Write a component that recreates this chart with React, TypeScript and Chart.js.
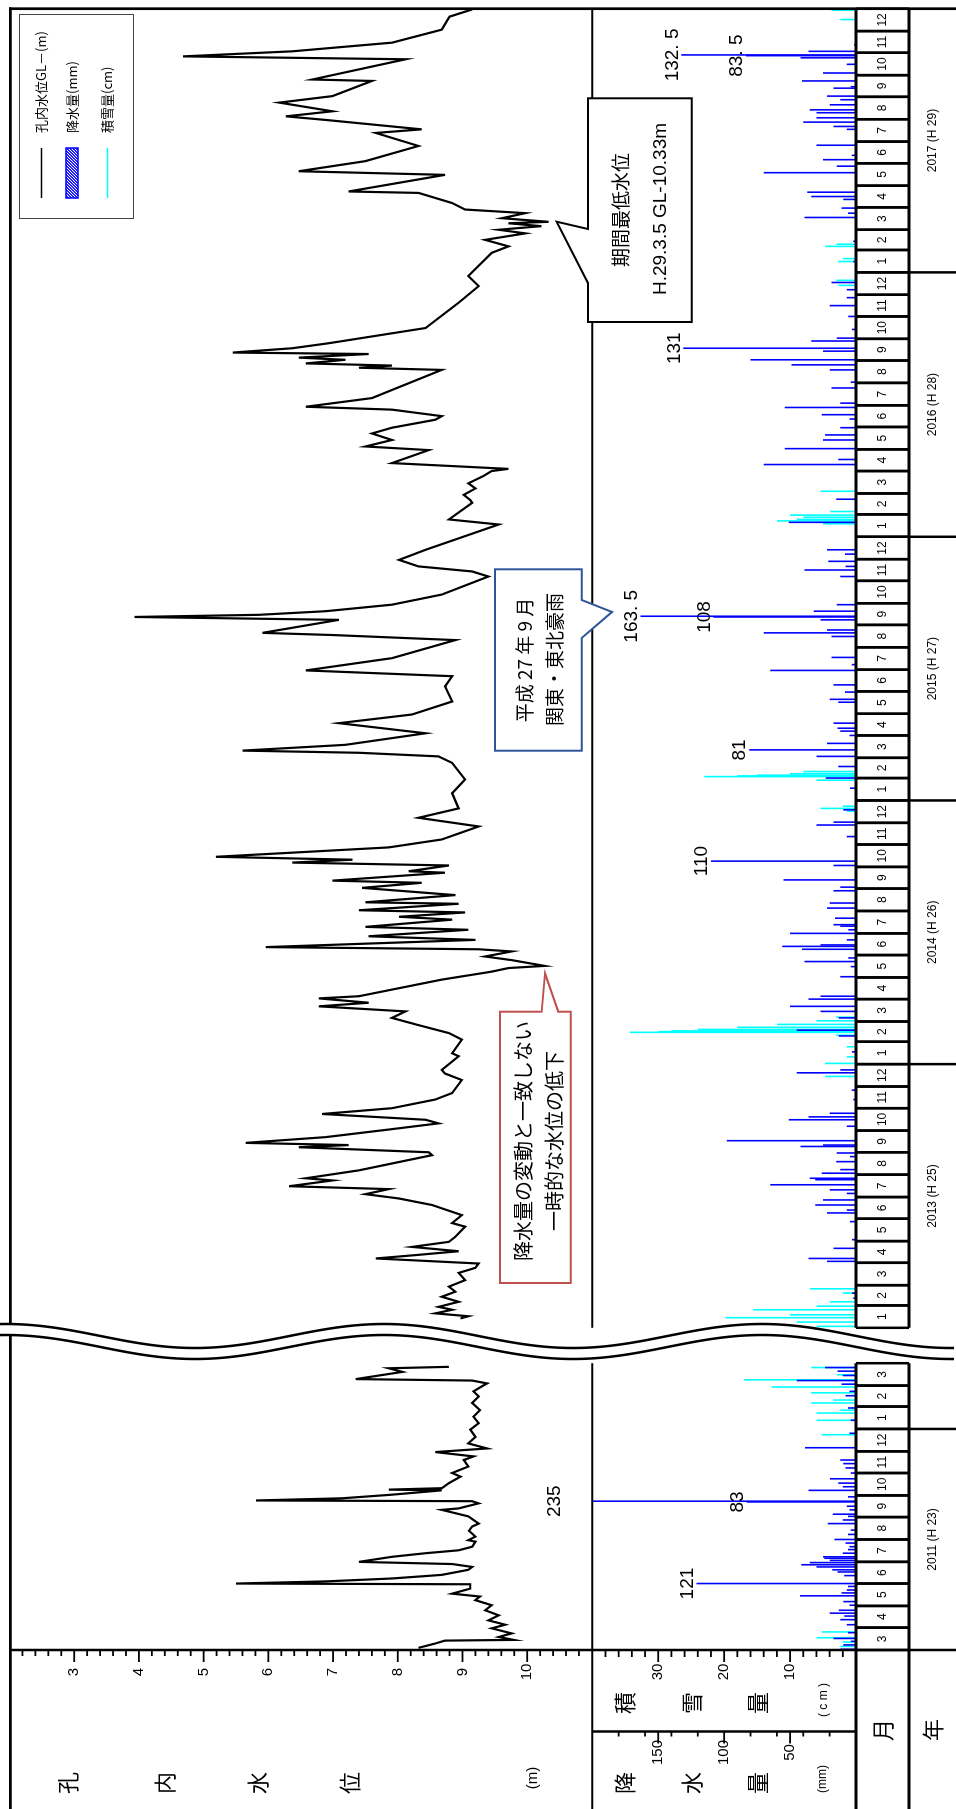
import React, { useEffect, useRef } from 'react';
import { Chart, registerables } from 'chart.js';

Chart.register(...registerables);

// ---------------- time frame (two panels with a break) ----------------
const DAY_MS = 86400000;
const utcDay = (y: number, m: number, d: number) => Date.UTC(y, m - 1, d) / DAY_MS;
const L0 = utcDay(2011, 3, 1);
const L1 = utcDay(2012, 4, 1);
const U0 = utcDay(2013, 1, 1);
const U1 = utcDay(2018, 1, 1);
const BREAK_DAYS = 49;
const LOWER_LEN = L1 - L0;
const UPPER_OFFSET = LOWER_LEN + BREAK_DAYS;
const X_MAX = UPPER_OFFSET + (U1 - U0);
const posOf = (y: number, m: number, d: number) => {
  const t = utcDay(y, m, d);
  return t < U0 ? t - L0 : UPPER_OFFSET + (t - U0);
};

// ---------------- data ----------------
// groundwater level GL-(m): [days since 2011-03-01, level]
const waterLower: [number, number][] = [
  [3, 8.32], [9, 8.58], [13, 8.73], [14, 9.79], [18, 9.56], [23, 9.76], [30, 9.45], [35, 9.66], [41, 9.4],
  [48, 9.56], [55, 9.35], [62, 9.45], [69, 9.2], [74, 9.27], [78, 8.84], [85, 9.12], [91, 9.12], [92, 5.5],
  [95, 6.89], [99, 7.91], [104, 8.68], [111, 9.09], [115, 9.15], [119, 8.84], [122, 7.4], [129, 7.91],
  [134, 8.43], [138, 8.94], [143, 9.15], [150, 9.2], [152, 9.09], [157, 9.2], [165, 9.1], [171, 9.15],
  [175, 9.25], [185, 9.09], [194, 8.68], [196, 8.94], [203, 9.25], [206, 9.15], [207, 5.81], [210, 7.14],
  [215, 7.91], [221, 8.68], [222, 7.86], [224, 8.68], [231, 8.79], [240, 8.97], [245, 8.84], [254, 9.09],
  [263, 9.02], [268, 9.17], [274, 8.58], [279, 9.38], [286, 9.09], [295, 9.2], [305, 9.12], [314, 9.25],
  [323, 9.17], [332, 9.27], [342, 9.15], [351, 9.25], [358, 9.17], [365, 9.3], [369, 9.38], [373, 9.15],
  [375, 7.35], [385, 8.07], [390, 7.86], [392, 8.79],
];
// [days since 2013-01-01, level]
const waterUpper: [number, number][] = [
  [13, 8.97], [16, 9.09], [20, 8.58], [25, 8.84], [29, 8.63], [36, 8.94], [43, 8.68], [50, 8.89], [57, 8.79],
  [66, 9.04], [76, 8.94], [83, 9.2], [89, 9.25], [96, 7.66], [101, 8.32], [106, 8.94], [112, 8.22],
  [119, 8.79], [126, 8.89], [140, 9.04], [145, 8.84], [156, 8.99], [170, 8.53], [179, 8.02], [185, 7.5],
  [192, 7.86], [196, 6.32], [204, 6.99], [207, 6.58], [218, 7.4], [239, 8.53], [243, 8.48], [250, 6.47],
  [253, 7.24], [256, 5.65], [264, 6.89], [275, 7.91], [283, 8.63], [288, 8.43], [296, 6.83], [304, 7.91],
  [316, 8.58], [325, 8.84], [343, 8.99], [352, 8.73], [357, 8.68], [376, 8.94], [380, 8.84], [399, 8.99],
  [408, 8.79], [419, 8.32], [429, 7.91], [438, 8.12], [445, 6.78], [450, 7.55], [456, 6.78], [459, 7.4],
  [482, 8.68], [493, 9.45], [498, 9.71], [501, 10.27], [509, 9.76], [514, 9.35], [521, 9.76], [524, 9.25],
  [527, 5.96], [537, 9.2], [542, 7.55], [551, 9.09], [555, 7.5], [565, 8.84], [569, 8.02], [575, 9.04],
  [578, 7.4], [587, 8.94], [589, 7.5], [599, 8.89], [609, 7.45], [616, 8.37], [619, 6.99], [630, 8.73],
  [632, 8.17], [640, 8.79], [644, 6.37], [648, 7.3], [652, 5.19], [665, 7.86], [676, 8.68], [694, 9.25],
  [706, 8.32], [719, 8.94], [740, 8.84], [759, 9.04], [782, 8.84], [791, 8.63], [796, 7.4], [799, 5.6],
  [807, 7.19], [823, 8.43], [837, 7.09], [849, 8.22], [867, 8.84], [888, 8.73], [902, 8.84], [910, 6.58],
  [927, 7.91], [952, 8.89], [959, 6.99], [962, 5.91], [980, 7.09], [984, 3.93], [987, 5.86], [992, 6.89],
  [1001, 7.91], [1015, 8.68], [1040, 9.4], [1047, 9.15], [1054, 8.32], [1063, 8.02], [1077, 8.43],
  [1112, 9.56], [1119, 8.79], [1142, 9.15], [1146, 9.12], [1153, 9.02], [1162, 9.2], [1169, 9.09],
  [1179, 9.32], [1186, 9.45], [1189, 9.71], [1197, 7.91], [1215, 8.48], [1220, 7.5], [1229, 7.91],
  [1238, 7.6], [1246, 7.91], [1257, 8.58], [1262, 8.68], [1271, 7.91], [1275, 6.58], [1287, 7.6],
  [1326, 8.68], [1329, 7.4], [1332, 7.91], [1335, 6.58], [1340, 7.19], [1343, 6.47], [1348, 7.55],
  [1350, 5.45], [1356, 6.37], [1363, 6.94], [1384, 8.43], [1419, 8.94], [1442, 9.25], [1456, 9.09],
  [1488, 9.45], [1497, 9.71], [1506, 9.35], [1515, 9.97], [1520, 9.56], [1525, 10.22], [1529, 9.71],
  [1531, 10.33], [1536, 9.61], [1543, 9.97], [1548, 9.04], [1557, 8.84], [1571, 8.32], [1573, 7.24],
  [1596, 8.73], [1601, 6.47], [1615, 7.5], [1636, 8.32], [1654, 7.66], [1659, 8.37], [1672, 6.89],
  [1677, 6.27], [1684, 6.99], [1696, 6.17], [1705, 6.99], [1726, 7.6], [1728, 6.68], [1756, 8.12],
  [1760, 4.68], [1767, 6.37], [1779, 7.91], [1797, 8.68], [1815, 8.8], [1825, 9.15],
];

// daily precipitation (mm): [day, mm]
const rainLower: [number, number][] = [
  [1, 12], [7, 9.6], [12, 4], [16, 17], [24, 6], [35, 7], [42, 12], [47, 9], [51, 20], [55, 13], [62, 5],
  [67, 9.6], [75, 42.5], [79, 11], [83, 7], [88, 6], [92, 121], [103, 9], [108, 14], [111, 18], [115, 30],
  [118, 41.6], [121, 35], [124, 20], [127, 24], [129, 25], [134, 10], [139, 6], [143, 5], [148, 8],
  [153, 16.4], [160, 6], [166, 4], [175, 21.4], [180, 10], [185, 6], [188, 17.7], [194, 5], [199, 7],
  [205, 83], [206, 235], [212, 6], [221, 36], [226, 10], [231, 13.4], [237, 19.7], [245, 4], [252, 8],
  [258, 9.6], [263, 12], [280, 38.6], [300, 5], [318, 4], [335, 6], [352, 8], [358, 5], [368, 11], [373, 45],
  [380, 10], [386, 14], [391, 23.5],
];
const rainUpper: [number, number][] = [
  [41, 2], [48, 3], [92, 22], [96, 36], [110, 17], [122, 3], [147, 4.5], [159, 22], [163, 7], [170, 31],
  [177, 25], [186, 7], [191, 20], [198, 65], [205, 31], [207, 35], [214, 26], [219, 12], [230, 15], [237, 4.5],
  [242, 14.6], [251, 42], [253, 25], [259, 98], [279, 7], [288, 51], [292, 36], [297, 20], [316, 2], [329, 3.3],
  [353, 45], [357, 12], [382, 3], [404, 13], [412, 45], [429, 13], [438, 27], [445, 50], [455, 36], [459, 27],
  [486, 12], [500, 4], [507, 39], [512, 5.8], [524, 41], [528, 56], [530, 27], [537, 7], [546, 50], [551, 5.8],
  [556, 12], [558, 17], [567, 16], [581, 22], [588, 20], [605, 17], [610, 12], [620, 55], [640, 17], [646, 110],
  [680, 7], [696, 30], [700, 17], [717, 9.6], [747, 4.5], [761, 23], [777, 13.4], [791, 30], [800, 81],
  [809, 22], [820, 5], [826, 12], [830, 14], [837, 17], [866, 13.4], [870, 20], [880, 8.3], [890, 17],
  [910, 65], [918, 3.3], [928, 18.5], [957, 18.5], [962, 70], [966, 22], [980, 27], [984, 108], [985, 163.5],
  [992, 32], [1001, 14.6], [1040, 12], [1049, 39], [1054, 8], [1061, 21], [1071, 8.3], [1077, 22], [1115, 51],
  [1147, 15], [1195, 70], [1202, 13.4], [1217, 54], [1229, 25], [1236, 23.5], [1246, 12], [1258, 5],
  [1264, 26], [1274, 54], [1280, 12], [1301, 18.5], [1309, 4], [1326, 20], [1333, 49], [1340, 80], [1352, 25],
  [1356, 131], [1366, 34], [1370, 14.6], [1382, 3], [1400, 5.8], [1415, 20], [1426, 7], [1437, 7],
  [1447, 18.5], [1476, 2], [1504, 2], [1537, 39], [1543, 6], [1550, 11], [1562, 9.6], [1566, 34], [1572, 37],
  [1599, 70], [1608, 14.6], [1617, 25], [1623, 3.3], [1637, 30], [1659, 7], [1663, 17], [1669, 40],
  [1675, 30], [1682, 30], [1686, 35], [1693, 20], [1700, 12], [1705, 22], [1716, 17], [1718, 4], [1726, 41],
  [1737, 25], [1749, 7], [1758, 42], [1761, 83.5], [1762, 132.5], [1767, 36], [1776, 1.5], [1792, 1],
];
// snow depth (cm): [day, cm]
const snowLower: [number, number][] = [
  [5, 2.4], [11, 2.0], [17, 6.0], [25, 5.2], [298, 5.2], [318, 6.0], [328, 6.0], [332, 2.4], [342, 6.8],
  [346, 3.4], [356, 6.8], [364, 12.8], [374, 17.0], [381, 2.9], [391, 6.8],
];
const snowUpper: [number, number][] = [
  [2, 6], [8, 9], [14, 19.8], [18, 10], [25, 15.6], [30, 6], [36, 4], [48, 2], [54, 7], [348, 4.7], [366, 4.7],
  [375, 1.4], [389, 1.4], [405, 3], [409, 34.3], [410, 30], [411, 28], [413, 24], [416, 18], [420, 12],
  [425, 6], [430, 3], [715, 1.4], [719, 5.4], [722, 2], [758, 6], [763, 23], [764, 18], [765, 15], [767, 10],
  [770, 8], [1113, 5], [1117, 12], [1119, 9], [1122, 8], [1125, 10], [1130, 3.9], [1158, 5.4], [1443, 2.7],
  [1450, 3], [1476, 2.7], [1480, 2], [1497, 4.7], [1500, 3], [1811, 2.4], [1824, 3.7],
];
// annotated precipitation bars: [panel (0 lower / 1 upper), day]
const rainNotes: [number, number][] = [
  [0, 206], [0, 205], [0, 92], [1, 646], [1, 800], [1, 985], [1, 984], [1, 1356], [1, 1762], [1, 1761],
];

const waterTicks = [3, 4, 5, 6, 7, 8, 9, 10];
const rainTicks = [50, 100, 150];
const snowTicks = [10, 20, 30];
const yearLabels: [number, string][] = [
  [2011, '2011 (H 23)'], [2013, '2013 (H 25)'], [2014, '2014 (H 26)'], [2015, '2015 (H 27)'],
  [2016, '2016 (H 28)'], [2017, '2017 (H 29)'],
];

// ---------------- helpers ----------------
const CJK = '"Noto Sans CJK JP", "Noto Sans CJK SC", sans-serif';
const NUM = '"Liberation Sans", Arial, sans-serif';
const CW = 1809;
const CH = 956;

function ln(ctx: CanvasRenderingContext2D, x1: number, y1: number, x2: number, y2: number, w: number, c = '#000') {
  ctx.beginPath();
  ctx.moveTo(x1, y1);
  ctx.lineTo(x2, y2);
  ctx.lineWidth = w;
  ctx.strokeStyle = c;
  ctx.stroke();
}
function tx(ctx: CanvasRenderingContext2D, s: string, x: number, y: number, font: string, align: CanvasTextAlign = 'center', color = '#000') {
  ctx.font = font;
  ctx.textAlign = align;
  ctx.textBaseline = 'middle';
  ctx.fillStyle = color;
  ctx.fillText(s, x, y);
}
function callout(ctx: CanvasRenderingContext2D, x1: number, y1: number, x2: number, y2: number,
  side: string, a: number, b: number, tip: [number, number], color: string) {
  ctx.beginPath();
  ctx.moveTo(x1, y1);
  if (side === 'top') { ctx.lineTo(a, y1); ctx.lineTo(tip[0], tip[1]); ctx.lineTo(b, y1); }
  ctx.lineTo(x2, y1);
  if (side === 'right') { ctx.lineTo(x2, a); ctx.lineTo(tip[0], tip[1]); ctx.lineTo(x2, b); }
  ctx.lineTo(x2, y2);
  if (side === 'bottom') { ctx.lineTo(b, y2); ctx.lineTo(tip[0], tip[1]); ctx.lineTo(a, y2); }
  ctx.lineTo(x1, y2);
  ctx.closePath();
  ctx.fillStyle = '#fff';
  ctx.fill();
  ctx.lineWidth = 2;
  ctx.strokeStyle = color;
  ctx.stroke();
}
const fmt = (v: number) => (Number.isInteger(v) ? String(v) : String(v).replace('.', '. '));

function monthCells() {
  const cells: { y: number; m: number; s: number; e: number }[] = [];
  const add = (y0: number, m0: number, y1: number, m1: number) => {
    let y = y0, m = m0;
    while (y < y1 || (y === y1 && m <= m1)) {
      const ny = m === 12 ? y + 1 : y;
      const nm = m === 12 ? 1 : m + 1;
      const s = posOf(y, m, 1);
      const e = (y === 2012 && m === 3) ? LOWER_LEN : posOf(ny, nm, 1);
      cells.push({ y, m, s, e });
      y = ny; m = nm;
    }
  };
  add(2011, 3, 2012, 3);
  add(2013, 1, 2017, 12);
  return cells;
}

// ---------------- plugins ----------------
const bgPlugin = {
  id: 'bg',
  beforeDraw(chart: any) {
    const ctx = chart.ctx;
    ctx.save();
    ctx.fillStyle = '#fff';
    ctx.fillRect(0, 0, chart.width, chart.height);
    ctx.restore();
  },
};

const clipPlugin = {
  id: 'clipper',
  beforeDatasetDraw(chart: any, args: any) {
    const ctx = chart.ctx;
    const a = chart.chartArea;
    const yP = chart.scales.yPrecip;
    const top = yP.getPixelForValue(200);
    const ds = chart.data.datasets[args.index];
    ctx.save();
    ctx.beginPath();
    if (ds.type === 'bar') ctx.rect(a.left, top, a.right - a.left, yP.getPixelForValue(0) - top);
    else ctx.rect(a.left, a.top, a.right - a.left, top - a.top);
    ctx.clip();
  },
  afterDatasetDraw(chart: any) {
    chart.ctx.restore();
  },
};

const decorPlugin = {
  id: 'decor',
  afterDraw(chart: any) {
    const ctx: CanvasRenderingContext2D = chart.ctx;
    const a = chart.chartArea;
    const sx = chart.scales.x, yW = chart.scales.yWater, yP = chart.scales.yPrecip, yS = chart.scales.ySnow;
    const X = (p: number) => sx.getPixelForValue(p);
    const xL1 = X(LOWER_LEN), xU0 = X(UPPER_OFFSET), xEnd = X(X_MAX);
    const yDiv = yP.getPixelForValue(200);
    const yBase = yP.getPixelForValue(0);
    const yMon = yBase + 53;
    ctx.save();
    ctx.lineCap = 'butt';

    // value labels on big rain bars
    rainNotes.forEach(([panel, day]) => {
      const src = panel === 0 ? rainLower : rainUpper;
      const rec = src.find((r) => r[0] === day);
      if (!rec) return;
      const v = rec[1];
      const x = X(panel === 0 ? day : UPPER_OFFSET + day);
      const y = v > 200 ? yDiv - 38 : yP.getPixelForValue(v) - 9;
      tx(ctx, fmt(v), x, y, `19px ${NUM}`);
    });

    // rules
    ([[yDiv, 2], [yBase, 3], [yMon, 3]] as [number, number][]).forEach(([y, w]) => {
      ln(ctx, 0, y, xL1, y, w);
      ln(ctx, xU0, y, xEnd, y, w);
    });
    ln(ctx, 0, 10.3, xEnd + 1.3, 10.3, 2.7);
    ln(ctx, xEnd, 9, xEnd, CH, 2.7);
    ln(ctx, a.left, 9, a.left, CH, 2.5);
    ln(ctx, 77.5, yDiv, 77.5, yBase, 2.5);

    // water level axis ticks
    for (let k = 11; k <= 54; k++) {
      const v = k / 5;
      const y = yW.getPixelForValue(v);
      const major = k % 5 === 0;
      ln(ctx, a.left - (major ? 12 : 6), y, a.left, y, 1.8);
    }
    waterTicks.forEach((v) => tx(ctx, String(v), 137, yW.getPixelForValue(v), `15px ${NUM}`));
    // snow axis
    for (let c = 2; c < 40; c += 2) {
      const y = yS.getPixelForValue(c);
      ln(ctx, a.left - (c % 10 === 0 ? 12 : 7), y, a.left, y, 1.8);
    }
    snowTicks.forEach((v) => tx(ctx, String(v), 137, yS.getPixelForValue(v), `15px ${NUM}`));
    // precipitation axis
    [20, 40, 50, 60, 80, 100, 120, 140, 150, 160, 180].forEach((m) => {
      const y = yP.getPixelForValue(m);
      ln(ctx, 77.5 - (m % 50 === 0 ? 12 : 5), y, 77.5, y, 1.8);
    });
    rainTicks.forEach((v) => tx(ctx, String(v), 56.5, yP.getPixelForValue(v), `15px ${NUM}`));

    // axis titles
    const big = `22px ${CJK}`;
    [['孔', 68], ['内', 165], ['水', 258], ['位', 350]].forEach(([s, y]) => tx(ctx, s as string, 26, y as number, big));
    tx(ctx, '(m)', 31, 533, `15px ${NUM}`);
    [['降', 625], ['水', 692], ['量', 758]].forEach(([s, y]) => tx(ctx, s as string, 26, y as number, big));
    tx(ctx, '(mm)', 30, 823, `12px ${NUM}`);
    [['積', 625], ['雪', 692], ['量', 758]].forEach(([s, y]) => tx(ctx, s as string, 106, y as number, big));
    tx(ctx, '( c m )', 109, 824, `12px ${NUM}`);
    tx(ctx, '月', 79, 883, big);
    tx(ctx, '年', 79, 933, big);

    // month table
    const cells = monthCells();
    cells.forEach((c) => {
      const x1 = X(c.s), x2 = X(c.e);
      ln(ctx, x1, yBase, x1, yMon, 2.5);
      ln(ctx, x2, yBase, x2, yMon, 2.5);
      tx(ctx, String(c.m), (x1 + x2) / 2, (yBase + yMon) / 2 + 0.5, `12px ${NUM}`);
    });
    [posOf(2012, 1, 1), posOf(2014, 1, 1), posOf(2015, 1, 1), posOf(2016, 1, 1), posOf(2017, 1, 1)].forEach((p) =>
      ln(ctx, X(p), yMon, X(p), CH, 2.5));
    yearLabels.forEach(([yr, label]) => {
      const s = yr === 2011 ? posOf(2011, 3, 1) : posOf(yr, 1, 1);
      const e = posOf(yr + 1, 1, 1);
      tx(ctx, label, (X(s) + X(e)) / 2, 933, `12px ${NUM}`);
    });

    // annotations
    callout(ctx, 526, 500, 797.3, 570.7, 'right', 541.7, 558.3, [835.7, 545], '#c0504d');
    tx(ctx, '降水量の変動と一致しない', 668, 523, `20px ${CJK}`);
    tx(ctx, '一時的な水位の低下', 668, 554, `20px ${CJK}`);
    callout(ctx, 1058.3, 495, 1239.7, 581.7, 'bottom', 1171, 1209, [1197, 612], '#2f5597');
    tx(ctx, '平成 27 年 9 月', 1149, 525, `19px ${CJK}`);
    tx(ctx, '関東・東北豪雨', 1149.5, 555, `19px ${CJK}`);
    callout(ctx, 1487, 588, 1710.7, 691.7, 'top', 1526, 1580, [1587.3, 556.7], '#000');
    tx(ctx, '期間最低水位', 1599, 621, `19px ${CJK}`);
    tx(ctx, 'H.29.3.5 GL-10.33m', 1600, 661, `19px ${NUM}`);

    // legend
    ctx.fillStyle = '#fff';
    ctx.fillRect(1590, 19.3, 204, 114);
    ctx.lineWidth = 1;
    ctx.strokeStyle = '#444';
    ctx.strokeRect(1590.5, 19.5, 204, 114);
    ln(ctx, 1611, 41.5, 1661, 41.5, 1.5, '#000');
    tx(ctx, '孔内水位GL－(m)', 1676, 41.5, `13px ${CJK}`, 'left');
    ctx.save();
    ctx.beginPath();
    ctx.rect(1611, 66, 50, 12);
    ctx.clip();
    ctx.fillStyle = '#2020ff';
    ctx.fillRect(1611, 66, 50, 12);
    for (let k = -14; k < 56; k += 3) ln(ctx, 1611 + k, 78, 1611 + k + 12, 66, 1, '#ffffff');
    ctx.restore();
    ctx.lineWidth = 1.5;
    ctx.strokeStyle = '#0000ff';
    ctx.strokeRect(1611, 66, 50, 12);
    tx(ctx, '降水量(mm)', 1676, 71.7, `13px ${CJK}`, 'left');
    ln(ctx, 1611, 107.5, 1661, 107.5, 1.5, '#00ffff');
    tx(ctx, '積雪量(cm)', 1676, 107.5, `13px ${CJK}`, 'left');

    // break (wave)
    const wave = (off: number) => {
      const pts: [number, number][] = [];
      for (let y = 0; y <= CH; y += 3) pts.push([off + 12 * Math.cos((2 * Math.PI * (y - 384)) / 378), y]);
      return pts;
    };
    const up = wave(473), lo = wave(462);
    ctx.beginPath();
    up.forEach(([x, y], i) => (i ? ctx.lineTo(x, y) : ctx.moveTo(x, y)));
    for (let i = lo.length - 1; i >= 0; i--) ctx.lineTo(lo[i][0], lo[i][1]);
    ctx.closePath();
    ctx.fillStyle = '#fff';
    ctx.fill();
    [up, lo].forEach((pts) => {
      ctx.beginPath();
      pts.forEach(([x, y], i) => (i ? ctx.lineTo(x, y) : ctx.moveTo(x, y)));
      ctx.lineWidth = 2.5;
      ctx.strokeStyle = '#000';
      ctx.stroke();
    });
    ctx.restore();
  },
};

// ---------------- chart ----------------
function buildConfig(): any {
  const water = [
    ...waterLower.map(([d, v]) => ({ x: d, y: v })),
    { x: LOWER_LEN + 10, y: null },
    ...waterUpper.map(([d, v]) => ({ x: UPPER_OFFSET + d, y: v })),
  ];
  const rain = [
    ...rainLower.map(([d, v]) => ({ x: d, y: v })),
    ...rainUpper.map(([d, v]) => ({ x: UPPER_OFFSET + d, y: v })),
  ];
  const snow = [
    ...snowLower.map(([d, v]) => ({ x: d, y: v })),
    ...snowUpper.map(([d, v]) => ({ x: UPPER_OFFSET + d, y: v })),
  ];
  return {
    data: {
      datasets: [
        { type: 'line', label: '孔内水位GL－(m)', data: water, xAxisID: 'x', yAxisID: 'yWater', borderColor: '#000',
          borderWidth: 2.2, pointRadius: 0, tension: 0, spanGaps: false, order: 0 },
        { type: 'bar', label: '降水量(mm)', data: rain, xAxisID: 'x', yAxisID: 'yPrecip', backgroundColor: '#0000ff',
          barThickness: 1.6, grouped: false, inflateAmount: 0, borderWidth: 0, order: 1 },
        { type: 'bar', label: '積雪量(cm)', data: snow, xAxisID: 'x', yAxisID: 'ySnow', backgroundColor: '#00ffff',
          barThickness: 1.6, grouped: false, inflateAmount: 0, borderWidth: 0, order: 2 },
      ],
    },
    options: {
      responsive: false,
      animation: false,
      devicePixelRatio: 1,
      events: [],
      layout: { padding: { left: 159, right: 8.7, top: 9.5, bottom: 100 } },
      scales: {
        x: { type: 'linear', min: 0, max: X_MAX, offset: false, display: false, grid: { offset: false } },
        yWater: { type: 'linear', min: 2, max: 15.081, reverse: true, display: false },
        yPrecip: { type: 'linear', min: 0, max: 642, display: false },
        ySnow: { type: 'linear', min: 0, max: 128.4, display: false },
      },
      plugins: { legend: { display: false }, tooltip: { enabled: false } },
    },
    plugins: [bgPlugin, clipPlugin, decorPlugin],
  };
}

export default function App() {
  const ref = useRef<HTMLCanvasElement>(null);
  useEffect(() => {
    const chart = new Chart(ref.current as HTMLCanvasElement, buildConfig());
    return () => chart.destroy();
  }, []);
  return (
    <div style={{ position: 'absolute', left: 0, top: 0, width: 956, height: 1809, overflow: 'hidden', background: '#fff' }}>
      <canvas
        ref={ref}
        width={CW}
        height={CH}
        style={{ position: 'absolute', left: 0, top: 0, width: CW, height: CH, transformOrigin: '0 0',
          transform: `translate(0px, ${CW}px) rotate(-90deg)` }}
      />
    </div>
  );
}
